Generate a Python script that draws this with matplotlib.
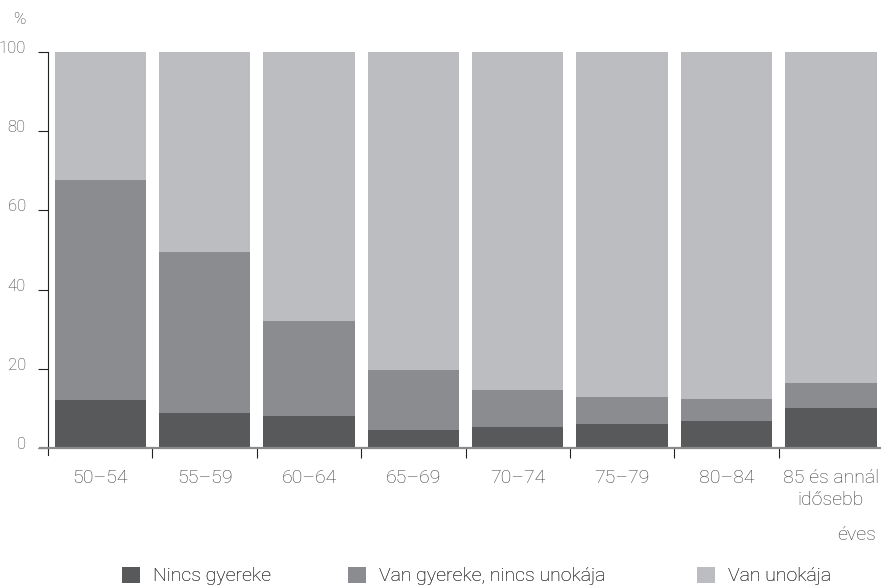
import matplotlib
matplotlib.use("Agg")
import matplotlib.pyplot as plt
from matplotlib.patches import Patch
from matplotlib.transforms import ScaledTranslation
import numpy as np

categories = ["50–54", "55–59", "60–64", "65–69", "70–74", "75–79", "80–84", "85 és annál\nidősebb"]
nincs_gyereke = [12.1, 8.8, 8.1, 4.5, 5.3, 6.1, 6.8, 10.1]
van_gyereke_nincs_unokaja = [55.6, 40.7, 24.0, 15.2, 9.3, 6.8, 5.6, 6.3]
van_unokaja = [32.3, 50.5, 67.9, 80.3, 85.4, 87.1, 87.6, 83.6]
series_names = ["Nincs gyereke", "Van gyereke, nincs unokája", "Van unokája"]
colors = ["#58595b", "#8b8c90", "#bcbdc1"]
yticks = [0, 20, 40, 60, 80, 100]

plt.rcParams['font.family'] = ['Roboto', 'DejaVu Sans']
txt = "#3a3a3a"

fig = plt.figure(figsize=(8.81, 5.87), dpi=100)
ax = fig.add_axes([48/881, 1-448/587, (881-48)/881, (448-52)/587])

x = np.arange(len(categories))
w = 0.875
b = np.zeros(len(categories))
for vals, c in zip([nincs_gyereke, van_gyereke_nincs_unokaja, van_unokaja], colors):
    ax.bar(x, vals, w, bottom=b, color=c, linewidth=0)
    b += np.array(vals)

ax.set_xlim(-0.5, 7.48)
ax.set_ylim(0, 100)
for s in ["top", "right"]:
    ax.spines[s].set_visible(False)
ax.spines["left"].set_color("#222222")
ax.spines["left"].set_linewidth(0.8)
ax.spines["left"].set_bounds(-1.8, 100)
ax.spines["bottom"].set_color("#8a8a8a")
ax.spines["bottom"].set_linewidth(1.6)
ax.spines["bottom"].set_bounds(-0.58, 7.48)

ax.set_yticks(yticks)
ax.set_yticklabels([str(v) for v in yticks], fontsize=12, color=txt, fontweight="light")
ax.tick_params(axis="y", length=7, width=0.8, color="#222222", pad=9)
off = ScaledTranslation(0, 5/100, fig.dpi_scale_trans)
for lbl in ax.get_yticklabels():
    lbl.set_transform(lbl.get_transform() + off)

ax.set_xticks(x)
ax.set_xticklabels(categories, fontsize=14, color=txt, fontweight="light", linespacing=1.3, va="top")
ax.tick_params(axis="x", which="major", length=0, pad=15)
ax.set_xticks(np.arange(0.5, 7.0, 1.0), minor=True)
ax.tick_params(axis="x", which="minor", length=7, width=0.8, color="#222222")

fig.text(13/881, 1-20/587, "%", fontsize=12, color=txt, fontweight="light", ha="left", va="center")
fig.text(876/881, 1-540/587, "éves", fontsize=14, color=txt, fontweight="light", ha="right", va="baseline")

leg_x = [122, 348, 697]
for name, c, lx in zip(series_names, colors, leg_x):
    lg = fig.legend([Patch(facecolor=c, edgecolor="none")], [name], loc="center left",
                    bbox_to_anchor=(lx/881, 1-576/587), frameon=False,
                    handlelength=0.9, handleheight=0.9, handletextpad=0.7,
                    borderpad=0, borderaxespad=0, labelcolor=txt,
                    prop={"weight": "light", "size": 14})
    fig.add_artist(lg)

fig.savefig("out.png", dpi=100)
